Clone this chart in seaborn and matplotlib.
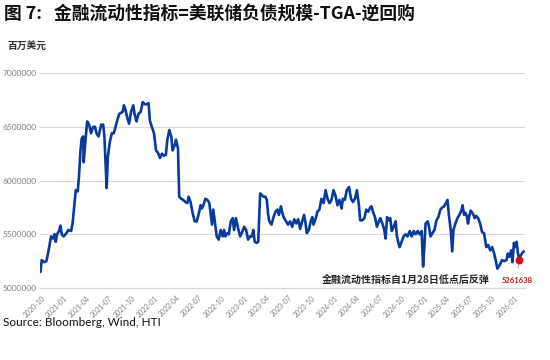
import matplotlib
matplotlib.use("Agg")
import matplotlib.pyplot as plt
import seaborn as sns
import pandas as pd

# 金融流动性指标 (百万美元), 读图估算
dates = [
    "2020-09-28", "2020-10-03", "2020-10-14", "2020-10-22", "2020-10-30", "2020-11-10", "2020-11-18", "2020-11-24",
    "2020-11-29", "2020-12-04", "2020-12-12", "2020-12-18", "2020-12-23", "2020-12-31", "2021-01-11", "2021-01-19",
    "2021-01-30", "2021-02-05", "2021-02-13", "2021-02-18", "2021-02-26", "2021-03-03", "2021-03-09", "2021-03-14",
    "2021-03-20", "2021-03-22", "2021-03-28", "2021-04-05", "2021-04-13", "2021-04-21", "2021-04-29", "2021-05-07",
    "2021-05-13", "2021-05-21", "2021-06-01", "2021-06-09", "2021-06-14", "2021-06-23", "2021-06-28", "2021-07-06",
    "2021-07-14", "2021-07-22", "2021-08-05", "2021-08-13", "2021-08-27", "2021-09-01", "2021-09-06", "2021-09-14",
    "2021-09-22", "2021-09-30", "2021-10-09", "2021-10-14", "2021-10-22", "2021-10-30", "2021-11-08", "2021-11-16",
    "2021-11-24", "2021-12-02", "2021-12-10", "2021-12-15", "2021-12-23", "2022-01-01", "2022-01-09", "2022-01-17",
    "2022-01-25", "2022-02-02", "2022-02-10", "2022-02-18", "2022-02-24", "2022-03-04", "2022-03-12", "2022-03-17",
    "2022-03-26", "2022-03-31", "2022-04-08", "2022-04-13", "2022-04-21", "2022-04-29", "2022-05-08", "2022-05-16",
    "2022-05-21", "2022-05-29", "2022-06-07", "2022-06-15", "2022-06-23", "2022-07-01", "2022-07-09", "2022-07-14",
    "2022-07-20", "2022-07-28", "2022-08-05", "2022-08-13", "2022-08-24", "2022-08-29", "2022-09-04", "2022-09-12",
    "2022-09-20", "2022-09-28", "2022-10-06", "2022-10-12", "2022-10-17", "2022-10-25", "2022-10-31", "2022-11-08",
    "2022-11-16", "2022-11-21", "2022-11-29", "2022-12-07", "2022-12-16", "2022-12-24", "2023-01-01", "2023-01-09",
    "2023-01-17", "2023-01-25", "2023-02-02", "2023-02-07", "2023-02-13", "2023-02-21", "2023-02-27", "2023-03-07",
    "2023-03-12", "2023-03-20", "2023-03-28", "2023-04-03", "2023-04-08", "2023-04-13", "2023-04-22", "2023-04-30",
    "2023-05-08", "2023-05-16", "2023-05-22", "2023-05-30", "2023-06-07", "2023-06-12", "2023-06-20", "2023-06-28",
    "2023-07-06", "2023-07-15", "2023-07-23", "2023-07-31", "2023-08-08", "2023-08-16", "2023-08-24", "2023-09-01",
    "2023-09-07", "2023-09-12", "2023-09-20", "2023-09-28", "2023-10-04", "2023-10-09", "2023-10-17", "2023-10-25",
    "2023-11-02", "2023-11-10", "2023-11-19", "2023-11-27", "2023-12-05", "2023-12-13", "2023-12-21", "2023-12-29",
    "2024-01-06", "2024-01-14", "2024-01-22", "2024-01-31", "2024-02-05", "2024-02-13", "2024-02-21", "2024-03-01",
    "2024-03-09", "2024-03-17", "2024-03-25", "2024-04-02", "2024-04-10", "2024-04-15", "2024-04-24", "2024-05-02",
    "2024-05-10", "2024-05-18", "2024-05-26", "2024-05-31", "2024-06-06", "2024-06-14", "2024-06-22", "2024-06-30",
    "2024-07-06", "2024-07-14", "2024-07-22", "2024-07-27", "2024-08-02", "2024-08-10", "2024-08-15", "2024-08-21",
    "2024-08-29", "2024-09-06", "2024-09-11", "2024-09-17", "2024-09-22", "2024-09-30", "2024-10-08", "2024-10-16",
    "2024-10-24", "2024-11-02", "2024-11-10", "2024-11-18", "2024-11-26", "2024-12-04", "2024-12-12", "2024-12-20",
    "2024-12-26", "2024-12-31", "2025-01-05", "2025-01-14", "2025-01-19", "2025-01-25", "2025-02-02", "2025-02-10",
    "2025-02-18", "2025-02-26", "2025-03-06", "2025-03-14", "2025-03-21", "2025-03-26", "2025-04-04", "2025-04-09",
    "2025-04-17", "2025-04-23", "2025-04-28", "2025-05-06", "2025-05-14", "2025-05-22", "2025-05-30", "2025-06-04",
    "2025-06-10", "2025-06-16", "2025-06-21", "2025-06-26", "2025-07-02", "2025-07-07", "2025-07-13", "2025-07-18",
    "2025-07-23", "2025-07-29", "2025-08-06", "2025-08-14", "2025-08-22", "2025-08-30", "2025-09-08", "2025-09-16",
    "2025-09-24", "2025-10-02", "2025-10-10", "2025-10-18", "2025-10-23", "2025-11-03", "2025-11-11", "2025-11-19",
    "2025-11-29", "2025-12-04", "2025-12-10", "2025-12-18", "2025-12-23", "2025-12-29", "2026-01-03", "2026-01-09",
    "2026-01-14", "2026-01-19", "2026-01-25", "2026-02-02", "2026-02-07",
]
values = [
    5.15, 5.26, 5.24, 5.25, 5.34, 5.48, 5.46, 5.50, 5.43, 5.50, 5.53, 5.58, 5.50, 5.48, 5.51, 5.54,
    5.53, 5.60, 5.79, 5.91, 5.90, 6.04, 6.28, 6.39, 6.41, 6.17, 6.34, 6.55, 6.52, 6.44, 6.50, 6.50,
    6.44, 6.41, 6.52, 6.52, 6.41, 5.93, 6.22, 6.36, 6.44, 6.44, 6.56, 6.62, 6.64, 6.70, 6.67, 6.59,
    6.53, 6.64, 6.70, 6.62, 6.55, 6.62, 6.64, 6.73, 6.71, 6.71, 6.72, 6.56, 6.50, 6.44, 6.28, 6.26,
    6.21, 6.25, 6.23, 6.24, 6.38, 6.47, 6.41, 6.28, 6.33, 6.38, 6.30, 5.85, 5.83, 5.82, 5.80, 5.79,
    5.85, 5.80, 5.69, 5.62, 5.62, 5.69, 5.77, 5.74, 5.77, 5.83, 5.82, 5.79, 5.59, 5.73, 5.62, 5.48,
    5.45, 5.54, 5.48, 5.54, 5.48, 5.51, 5.50, 5.62, 5.65, 5.54, 5.65, 5.56, 5.48, 5.52, 5.57, 5.54,
    5.45, 5.48, 5.48, 5.54, 5.43, 5.42, 5.43, 5.88, 5.87, 5.85, 5.85, 5.82, 5.69, 5.62, 5.59, 5.66,
    5.71, 5.73, 5.68, 5.76, 5.68, 5.65, 5.62, 5.59, 5.62, 5.57, 5.64, 5.60, 5.64, 5.55, 5.62, 5.68,
    5.60, 5.51, 5.54, 5.62, 5.66, 5.59, 5.64, 5.71, 5.73, 5.83, 5.79, 5.91, 5.83, 5.79, 5.82, 5.91,
    5.86, 5.77, 5.82, 5.74, 5.83, 5.82, 5.91, 5.94, 5.83, 5.80, 5.83, 5.91, 5.77, 5.63, 5.63, 5.65,
    5.73, 5.71, 5.75, 5.76, 5.71, 5.66, 5.57, 5.62, 5.65, 5.60, 5.54, 5.46, 5.66, 5.63, 5.65, 5.53,
    5.57, 5.62, 5.48, 5.42, 5.38, 5.43, 5.48, 5.50, 5.48, 5.53, 5.48, 5.53, 5.50, 5.53, 5.50, 5.53,
    5.20, 5.38, 5.60, 5.62, 5.57, 5.48, 5.51, 5.54, 5.63, 5.66, 5.73, 5.75, 5.76, 5.78, 5.82, 5.69,
    5.54, 5.34, 5.54, 5.60, 5.65, 5.68, 5.72, 5.77, 5.68, 5.70, 5.67, 5.60, 5.68, 5.72, 5.70, 5.68,
    5.65, 5.67, 5.65, 5.60, 5.52, 5.51, 5.38, 5.40, 5.35, 5.38, 5.32, 5.24, 5.18, 5.22, 5.26, 5.25,
    5.26, 5.32, 5.29, 5.35, 5.24, 5.42, 5.38, 5.43, 5.33, 5.261638, 5.30, 5.33, 5.34,
]
low_date = "2026-01-19"
low_value = 5261638

df = pd.DataFrame({"date": pd.to_datetime(dates), "value": [v * 1e6 for v in values]})

sns.set_theme(style="white")
plt.rcParams["font.family"] = ["Noto Sans CJK SC", "DejaVu Sans"]
latin = ["Lato", "DejaVu Sans"]

fig = plt.figure(figsize=(5.5, 3.6), dpi=100)
ax = fig.add_axes([0.0736, 0.2, 0.881, 0.597])

sns.lineplot(data=df, x="date", y="value", ax=ax, color="#0a3a9c", linewidth=1.9)

yticks = [5000000, 5500000, 6000000, 6500000, 7000000]
ax.set_ylim(5000000, 7000000)
ax.set_yticks(yticks)
ax.set_yticklabels([str(v) for v in yticks], fontsize=6, color="#7f7f7f", family=latin)
ax.set_xlim(pd.Timestamp("2020-09-28"), pd.Timestamp("2026-02-12"))
ticks = pd.date_range("2020-10-01", "2026-01-01", freq="QS")
ax.set_xticks(ticks)
ax.set_xticklabels([t.strftime("%Y-%m") for t in ticks], rotation=45, ha="right",
                   rotation_mode="anchor", fontsize=5, color="#7f7f7f", family=latin)
ax.tick_params(axis="x", length=3, width=0.6, color="#bfbfbf", pad=1.5)
ax.tick_params(axis="y", length=0, pad=3)
ax.yaxis.grid(True, color="#d9d9d9", linewidth=0.8)
ax.set_xlabel("")
ax.set_ylabel("")
for s in ["top", "right", "left"]:
    ax.spines[s].set_visible(False)
ax.spines["bottom"].set_color("#d9d9d9")
ax.spines["bottom"].set_linewidth(0.8)

# 标注低点
ax.scatter([pd.Timestamp(low_date)], [low_value], color="#d0101c", s=22, zorder=5)
ax.annotate(f"{low_value}", xy=(pd.Timestamp(low_date), low_value),
            xytext=(pd.Timestamp("2026-01-10"), 5070000), ha="center", va="center",
            fontsize=5.5, color="#c0141e", fontweight="bold", family=latin,
            arrowprops=dict(arrowstyle="-", color="#e08080", lw=0.6, shrinkA=4, shrinkB=2))
ax.text(pd.Timestamp("2024-10-15"), 5075000, "金融流动性指标自1月28日低点后反弹",
        ha="center", va="center", fontsize=7.2, color="#262626", fontweight="bold")

fig.text(0.008, 0.962, "图 7:   金融流动性指标=美联储负债规模-TGA-逆回购",
         fontsize=12.8, fontweight="bold", color="#111111", va="center", ha="left")
fig.text(0.014, 0.873, "百万美元", fontsize=7, fontweight="bold", color="#333333", va="center", ha="left")
fig.text(0.005, 0.103, "Source: Bloomberg, Wind, HTI", fontsize=8.5, color="#111111",
         va="center", ha="left", family=latin)

fig.savefig("out.png", dpi=100, facecolor="white")
